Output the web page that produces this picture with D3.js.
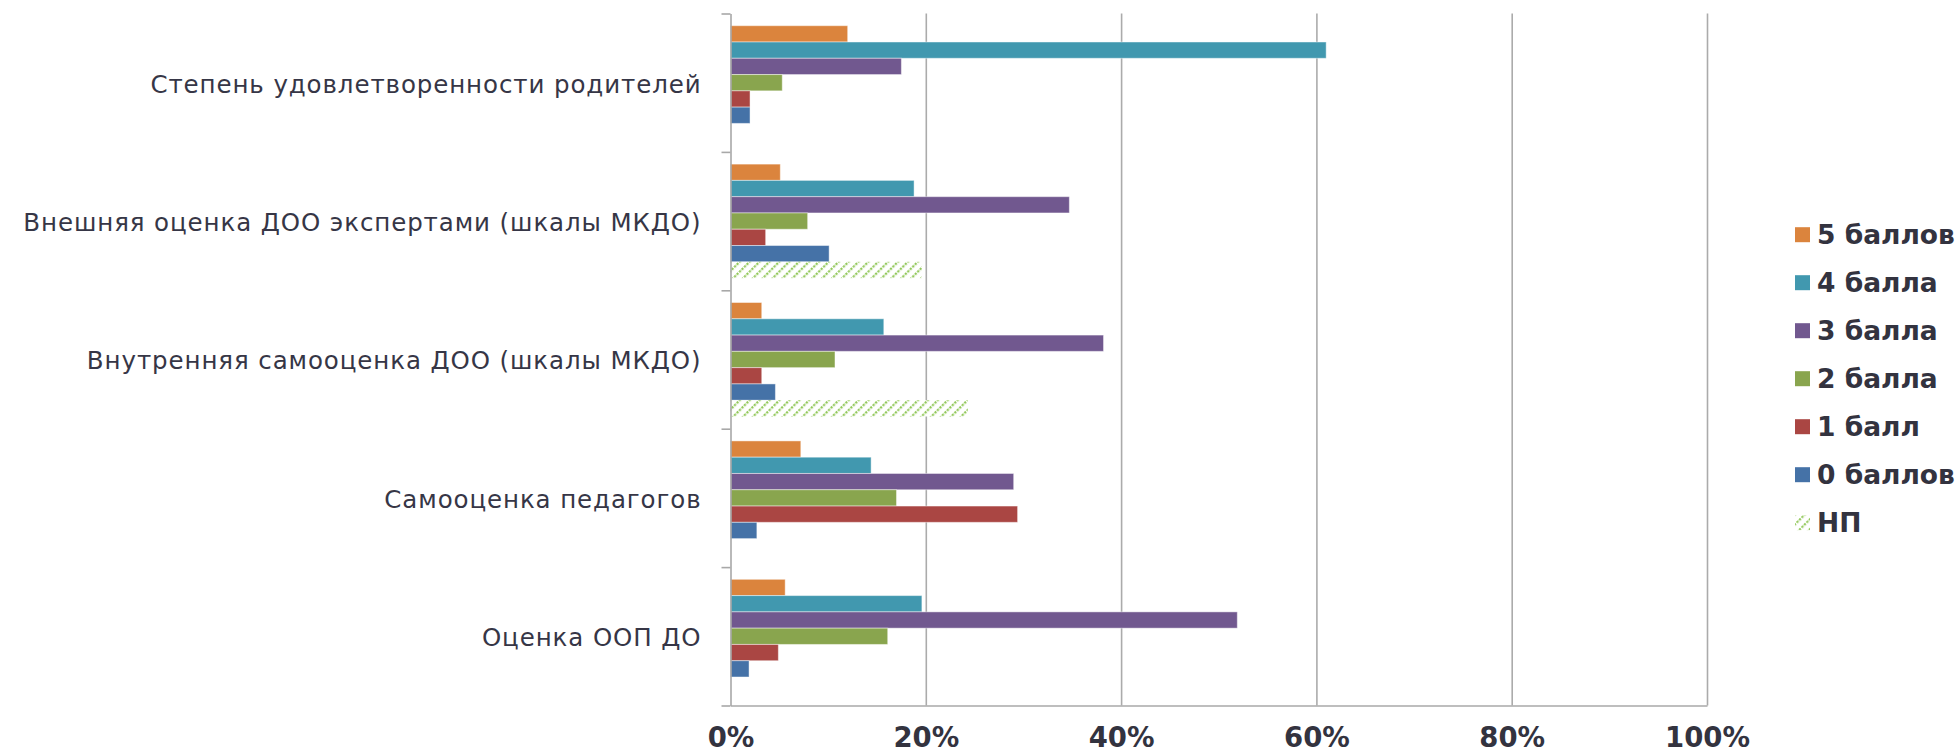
<!DOCTYPE html>
<html>
<head>
<meta charset="utf-8">
<script src="https://cdn.jsdelivr.net/npm/d3@7"></script>
<style>
  html, body { margin: 0; padding: 0; background: #fff; }
  svg { display: block; }
</style>
</head>
<body>
<script>
// ---- Data ----
const categories = [
  "Степень удовлетворенности родителей",
  "Внешняя оценка ДОО экспертами (шкалы МКДО)",
  "Внутренняя самооценка ДОО (шкалы МКДО)",
  "Самооценка педагогов",
  "Оценка ООП ДО"
];
const seriesNames = ["5 баллов", "4 балла", "3 балла", "2 балла", "1 балл", "0 баллов", "НП"];
const s5 = [12.0, 5.1, 3.2, 7.2, 5.6];
const s4 = [61.0, 18.8, 15.7, 14.4, 19.6];
const s3 = [17.5, 34.7, 38.2, 29.0, 51.9];
const s2 = [5.3, 7.9, 10.7, 17.0, 16.1];
const s1 = [2.0, 3.6, 3.2, 29.4, 4.9];
const s0 = [2.0, 10.1, 4.6, 2.7, 1.9];
const sNP = [0, 19.6, 24.3, 0, 0];
const xTicks = [0, 0.2, 0.4, 0.6, 0.8, 1.0];

const seriesValues = [s5, s4, s3, s2, s1, s0, sNP];
const colors = ["#DB843D", "#4198AF", "#71588F", "#89A54E", "#AA4643", "#4572A7", "url(#hatch)"];

// ---- Layout ----
const W = 1957, H = 754;
const mLeft = 730.5, mRight = 1707, mTop = 13.5, mBottom = 705.5;

const svg = d3.select("body").append("svg").attr("width", W).attr("height", H);

const defs = svg.append("defs");
const pat = defs.append("pattern")
  .attr("id", "hatch").attr("patternUnits", "userSpaceOnUse")
  .attr("width", 7).attr("height", 7)
  .attr("patternTransform", "rotate(45)");
pat.append("rect").attr("width", 7).attr("height", 7).attr("fill", "#fff");
pat.append("line").attr("x1", 0).attr("y1", 0).attr("x2", 0).attr("y2", 7)
  .attr("stroke", "#92C85A").attr("stroke-width", 4.5).attr("stroke-dasharray", "2.2,1.3");

const x = d3.scaleLinear().domain([0, 1]).range([mLeft, mRight]);
const y = d3.scaleBand().domain(categories).range([mTop, mBottom])
  .paddingInner(1.5 / 8.5).paddingOuter(0.75 / 8.5);
const yInner = d3.scaleBand().domain(seriesNames).range([0, y.bandwidth()]);
const yIdx = d3.scaleLinear().domain([0, categories.length]).range([mTop, mBottom]);

// Gridlines
svg.append("g")
  .attr("transform", `translate(0,${mBottom})`)
  .call(d3.axisBottom(x).tickValues(xTicks.slice(1)).tickSize(-(mBottom - mTop)).tickFormat(""))
  .call(g => g.select(".domain").remove())
  .call(g => g.selectAll("line").attr("stroke", "#ababab").attr("stroke-width", 1.6));

// Bars
const groups = svg.append("g").selectAll("g")
  .data(seriesNames).join("g")
  .attr("fill", (d, i) => colors[i]);

groups.each(function (name, si) {
  d3.select(this).selectAll("rect")
    .data(categories.map((c, ci) => ({ c, v: seriesValues[si][ci] / 100 })))
    .join("rect")
    .attr("x", x(0))
    .attr("y", d => y(d.c) + yInner(name))
    .attr("width", d => x(d.v) - x(0))
    .attr("height", yInner.bandwidth())
    .attr("stroke", si === 6 ? "none" : "rgba(255,255,255,0.45)")
    .attr("stroke-width", 1);
});

// X axis
const xAxis = svg.append("g")
  .attr("transform", `translate(0,${mBottom})`)
  .call(d3.axisBottom(x).tickValues(xTicks).tickSize(0).tickPadding(22).tickFormat(d3.format(".0%")));
xAxis.select(".domain").attr("stroke", "#a8a8a8").attr("stroke-width", 1.6);
xAxis.selectAll("text")
  .attr("font-family", "'DejaVu Sans', Verdana, sans-serif")
  .attr("font-weight", "bold").attr("font-size", 27.5).attr("fill", "#33333f");

// Y axis: boundary ticks
svg.append("g")
  .attr("transform", `translate(${mLeft},0)`)
  .call(d3.axisLeft(yIdx).tickValues(d3.range(categories.length + 1)).tickSize(9).tickSizeOuter(0).tickFormat(""))
  .call(g => g.select(".domain").attr("stroke", "#a8a8a8").attr("stroke-width", 1.6))
  .call(g => g.selectAll("line").attr("stroke", "#a8a8a8").attr("stroke-width", 1.6));

// Y axis: category labels
svg.append("g")
  .attr("transform", `translate(${mLeft},0)`)
  .call(d3.axisLeft(y).tickSize(0).tickPadding(29))
  .call(g => g.select(".domain").remove())
  .call(g => g.selectAll("text")
    .attr("font-family", "'DejaVu Sans', Verdana, sans-serif")
    .attr("font-size", 24.5).attr("letter-spacing", "0.9px")
    .attr("fill", "#363646").attr("dy", "0.4em"));

// Legend
const legendY = d3.scaleBand().domain(seriesNames).range([210.7, 546.7]);
const lg = svg.append("g").selectAll("g").data(seriesNames).join("g")
  .attr("transform", d => `translate(1795,${legendY(d) + legendY.bandwidth() / 2})`);
lg.append("rect").attr("x", 0).attr("y", -7.5).attr("width", 15).attr("height", 15)
  .attr("fill", (d, i) => colors[i]);
lg.append("text").attr("x", 22).attr("y", 0).attr("dy", "0.36em")
  .attr("font-family", "'DejaVu Sans', Verdana, sans-serif")
  .attr("font-weight", "bold").attr("font-size", 26.5).attr("fill", "#33333f")
  .text(d => d);
</script>
</body>
</html>
